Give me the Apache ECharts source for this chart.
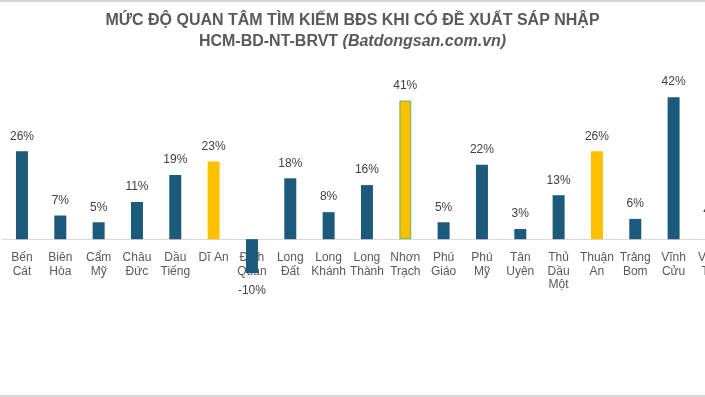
<!DOCTYPE html>
<html>
<head>
<meta charset="utf-8">
<script src="https://cdn.jsdelivr.net/npm/echarts@6/dist/echarts.min.js"></script>
<style>
  html, body { margin: 0; padding: 0; background: #fff; }
  #chart { width: 705px; height: 397px; box-sizing: border-box; border-top: 2px solid #d6d6d6; border-bottom: 2px solid #d6d6d6; }
</style>
</head>
<body>
<div id="chart"></div>
<script>
  // du lieu doc tu hinh
  const categories = ['Bến\nCát', 'Biên\nHòa', 'Cẩm\nMỹ', 'Châu\nĐức', 'Dầu\nTiếng', 'Dĩ An', 'Định\nQuán',
    'Long\nĐất', 'Long\nKhánh', 'Long\nThành', 'Nhơn\nTrạch', 'Phú\nGiáo', 'Phú\nMỹ', 'Tân\nUyên',
    'Thủ\nDầu\nMột', 'Thuận\nAn', 'Trảng\nBom', 'Vĩnh\nCửu', 'Vũng\nTàu'];
  const values = [26, 7, 5, 11, 19, 23, -10, 18, 8, 16, 41, 5, 22, 3, 13, 26, 6, 42, 4];
  const highlight = ['Dĩ An', 'Nhơn\nTrạch', 'Thuận\nAn'];
  const outlined = ['Nhơn\nTrạch'];

  const chart = echarts.init(document.getElementById('chart'));

  const data = values.map(function (v, i) {
    const name = categories[i];
    const item = { value: v, itemStyle: {} };
    if (highlight.indexOf(name) >= 0) item.itemStyle.color = '#ffc000';
    if (outlined.indexOf(name) >= 0) {
      item.itemStyle.borderColor = '#8cc04a';
      item.itemStyle.borderWidth = 1.5;
    }
    if (v < 0) item.label = { position: 'bottom', distance: 12 };
    return item;
  });

  const option = {
    animation: false,
    title: {
      left: 'center',
      top: 3,
      text: '{a|MỨC ĐỘ QUAN TÂM TÌM KIẾM BĐS KHI CÓ ĐỀ XUẤT SÁP NHẬP}\n{a|HCM-BD-NT-BRVT }{b|(Batdongsan.com.vn)}',
      textStyle: {
        rich: {
          a: { fontFamily: 'Liberation Sans', fontWeight: 'bold', fontSize: 16, color: '#595959', lineHeight: 21 },
          b: { fontFamily: 'Liberation Sans', fontWeight: 'bold', fontStyle: 'italic', fontSize: 16, color: '#595959', lineHeight: 21 }
        }
      }
    },
    grid: { left: 2.8, width: 728.3, top: 85, bottom: 122, outerBoundsMode: 'none', containLabel: false },
    xAxis: {
      type: 'category',
      data: categories,
      axisLine: { lineStyle: { color: '#d9d9d9', width: 1 } },
      axisTick: { show: false },
      axisLabel: {
        interval: 0,
        margin: -22,
        color: '#595959',
        fontFamily: 'Liberation Sans',
        fontSize: 12,
        lineHeight: 13.5
      }
    },
    yAxis: {
      type: 'value',
      min: -10,
      max: 45,
      show: false,
      splitLine: { show: false }
    },
    series: [{
      type: 'bar',
      data: data,
      barWidth: 12,
      itemStyle: { color: '#1c5a7c' },
      label: {
        show: true,
        position: 'top',
        distance: 9,
        color: '#404040',
        fontFamily: 'Liberation Sans',
        fontSize: 12,
        formatter: function (p) { return p.value + '%'; }
      }
    }]
  };

  chart.setOption(option);
</script>
</body>
</html>
